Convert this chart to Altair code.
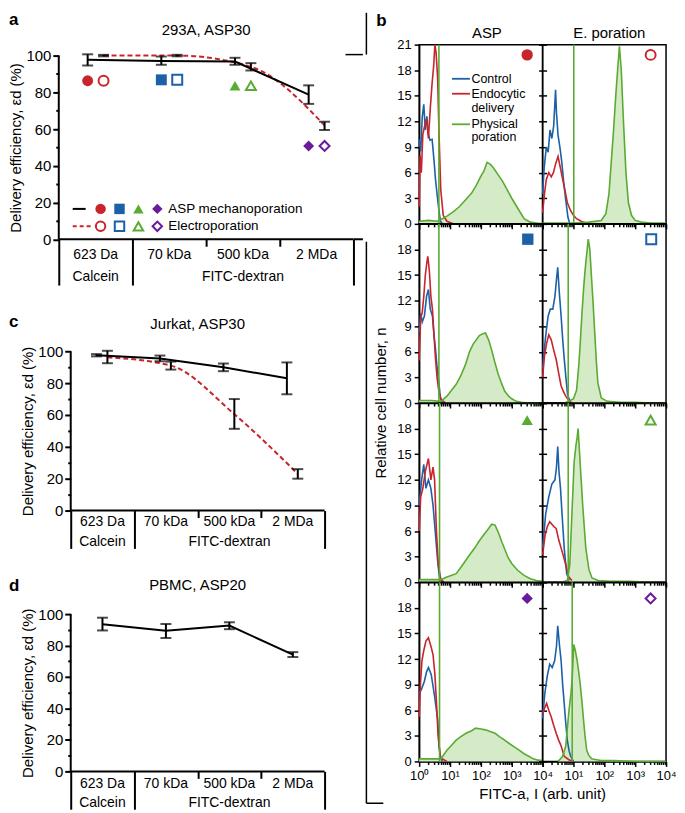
import altair as alt
import pandas as pd

FONT = "Liberation Sans"
RED = "#c8242b"
BLUE = "#1c61a8"
GREEN = "#5aab31"
PURPLE = "#6a1b9a"
FILL = "#d5ebc8"

# ---------------- categories ----------------
categories = ["623 Da", "70 kDa", "500 kDa", "2 MDa"]
group_names = ["Calcein", "FITC-dextran"]
group_first = [0, 1]
group_last = [1, 4]
cat_colors = [RED, BLUE, GREEN, PURPLE]
cat_shapes = ["circle", "square", "triangle-up", "diamond"]

# ---------------- panel a: 293A, ASP30 ----------------
a_asp = [97.7, 97.1, 96.8, 78.7]
a_asp_lo = [94.6, 95.0, 95.0, 73.7]
a_asp_hi = [100.7, 99.5, 98.8, 83.8]
a_ep = [100.0, 100.0, 93.9, 62.0]
a_ep_lo = [99.6, 99.6, 91.9, 59.5]
a_ep_hi = [100.4, 100.4, 95.9, 64.0]
a_marker = [86.3, 86.8, 83.6, 50.8]

# ---------------- panel c: Jurkat, ASP30 ----------------
c_asp = [97.5, 95.5, 90.0, 83.0]
c_asp_lo = [96.8, 93.7, 87.5, 73.0]
c_asp_hi = [98.2, 97.3, 92.3, 93.0]
c_ep = [96.2, 91.0, 60.5, 23.0]
c_ep_lo = [92.5, 88.5, 51.3, 20.0]
c_ep_hi = [100.3, 93.5, 70.0, 26.0]

# ---------------- panel d: PBMC, ASP20 ----------------
d_asp = [93.5, 89.4, 92.7, 74.2]
d_asp_lo = [89.6, 84.8, 90.4, 72.7]
d_asp_hi = [97.7, 93.7, 94.8, 75.8]

# ---------------- panel b: histograms (x = log10 FITC-a, n = relative cell number) ----------------
asp1_control_x = [0.0, 0.05, 0.1, 0.15, 0.2, 0.25, 0.3, 0.35, 0.42, 0.48, 0.53, 0.58, 0.64, 0.69, 0.75]
asp1_control_n = [9.9, 8.5, 12.5, 14.0, 11.0, 12.6, 10.5, 9.8, 9.9, 7.5, 5.2, 3.5, 1.6, 0.3, 0.0]
asp1_endo_x = [0.0, 0.03, 0.07, 0.12, 0.18, 0.24, 0.3, 0.36, 0.42, 0.47, 0.51, 0.55, 0.6, 0.64, 0.7, 0.78, 0.9, 1.1]
asp1_endo_n = [2.0, 8.0, 6.0, 10.5, 11.5, 12.3, 10.0, 13.5, 16.5, 18.5, 21.0, 20.0, 17.0, 11.0, 4.0, 1.0, 0.3, 0.0]
asp1_phys_x = [0.0, 0.3, 0.6, 0.75, 0.9, 1.1, 1.3, 1.5, 1.7, 1.85, 2.0, 2.1, 2.2, 2.3, 2.4, 2.55, 2.7, 2.85, 3.0, 3.2, 3.4, 3.6, 3.8, 4.0]
asp1_phys_n = [0.3, 0.4, 0.3, 0.6, 0.9, 1.4, 2.0, 2.8, 3.6, 4.5, 5.6, 6.2, 7.2, 7.0, 6.6, 5.8, 5.0, 4.0, 3.0, 1.8, 0.6, 0.2, 0.1, 0.0]

ep1_control_x = [0.0, 0.05, 0.12, 0.18, 0.24, 0.3, 0.36, 0.42, 0.45, 0.5, 0.56, 0.62, 0.68, 0.75, 0.82, 0.88]
ep1_control_n = [3.5, 6.5, 9.0, 8.4, 11.0, 10.0, 11.5, 15.7, 13.0, 10.4, 9.0, 7.3, 5.0, 2.8, 0.8, 0.0]
ep1_endo_x = [0.0, 0.06, 0.12, 0.2, 0.28, 0.35, 0.42, 0.5, 0.58, 0.65, 0.72, 0.8, 0.9, 1.0, 1.1, 1.25, 1.45]
ep1_endo_n = [1.3, 3.5, 5.2, 6.0, 5.5, 6.0, 7.0, 7.9, 6.5, 5.2, 4.0, 2.5, 1.6, 1.0, 0.6, 0.3, 0.0]
ep1_phys_x = [0.0, 0.5, 1.0, 1.5, 1.9, 2.05, 2.15, 2.22, 2.3, 2.37, 2.43, 2.49, 2.55, 2.62, 2.7, 2.78, 2.88, 3.0, 3.2, 3.5, 4.0]
ep1_phys_n = [0.1, 0.1, 0.1, 0.2, 0.4, 1.2, 3.5, 7.0, 11.0, 15.0, 18.0, 20.8, 18.0, 12.0, 6.0, 2.5, 1.0, 0.4, 0.2, 0.1, 0.1]

asp2_control_x = [0.0, 0.05, 0.1, 0.17, 0.24, 0.3, 0.36, 0.43, 0.48, 0.53, 0.58, 0.64, 0.69, 0.75]
asp2_control_n = [8.3, 10.5, 9.5, 10.2, 12.5, 13.3, 11.0, 10.2, 8.0, 6.3, 4.2, 2.4, 0.5, 0.0]
asp2_endo_x = [0.0, 0.05, 0.1, 0.15, 0.2, 0.25, 0.28, 0.33, 0.38, 0.43, 0.48, 0.53, 0.58, 0.64, 0.72, 0.85]
asp2_endo_n = [5.0, 10.0, 10.6, 12.5, 15.0, 16.5, 17.2, 15.5, 12.5, 11.0, 8.0, 5.2, 3.0, 1.3, 0.4, 0.0]
asp2_phys_x = [0.0, 0.4, 0.7, 0.9, 1.05, 1.2, 1.35, 1.5, 1.63, 1.75, 1.85, 1.95, 2.05, 2.15, 2.25, 2.35, 2.45, 2.56, 2.67, 2.77, 2.9, 3.0, 3.15, 3.3, 3.6, 4.0]
asp2_phys_n = [0.3, 0.3, 0.2, 0.8, 1.5, 2.2, 3.2, 4.5, 6.0, 6.9, 7.4, 7.9, 8.1, 8.2, 7.4, 6.2, 4.8, 3.4, 2.3, 1.4, 0.8, 0.5, 0.2, 0.1, 0.0, 0.0]

ep2_control_x = [0.0, 0.06, 0.12, 0.18, 0.25, 0.33, 0.4, 0.45, 0.49, 0.54, 0.6, 0.65, 0.7, 0.76, 0.81, 0.9]
ep2_control_n = [4.0, 6.5, 8.5, 10.2, 11.0, 11.0, 12.5, 14.5, 15.9, 13.0, 10.2, 7.5, 5.2, 2.8, 1.0, 0.1]
ep2_endo_x = [0.0, 0.06, 0.13, 0.2, 0.28, 0.36, 0.44, 0.52, 0.6, 0.68, 0.75, 0.85, 0.95]
ep2_endo_n = [3.0, 5.5, 7.0, 8.0, 7.4, 6.2, 5.1, 3.5, 2.0, 1.3, 0.8, 0.3, 0.0]
ep2_phys_x = [0.7, 0.85, 1.0, 1.1, 1.17, 1.22, 1.27, 1.33, 1.38, 1.43, 1.48, 1.53, 1.58, 1.64, 1.69, 1.74, 1.79, 1.9, 2.1, 2.5, 3.0, 3.5, 4.0]
ep2_phys_n = [0.0, 0.2, 0.5, 1.5, 4.3, 7.0, 10.2, 13.5, 15.7, 17.5, 19.2, 18.0, 15.0, 11.5, 8.2, 5.0, 2.4, 0.6, 0.2, 0.1, 0.1, 0.0, 0.0]

asp3_control_x = [0.0, 0.04, 0.08, 0.15, 0.22, 0.3, 0.38, 0.45, 0.52, 0.6, 0.66, 0.75]
asp3_control_n = [9.0, 10.5, 12.0, 13.8, 11.0, 12.0, 11.0, 9.0, 6.0, 2.5, 0.5, 0.0]
asp3_endo_x = [0.0, 0.05, 0.12, 0.2, 0.3, 0.38, 0.45, 0.5, 0.56, 0.62, 0.7, 0.8]
asp3_endo_n = [6.0, 10.0, 11.0, 13.0, 14.5, 12.0, 13.5, 12.0, 6.0, 2.0, 0.4, 0.0]
asp3_phys_x = [0.0, 0.4, 0.7, 0.9, 1.2, 1.4, 1.63, 1.8, 1.94, 2.1, 2.25, 2.35, 2.46, 2.57, 2.67, 2.78, 2.88, 3.0, 3.19, 3.4, 3.6, 3.8, 4.0]
asp3_phys_n = [0.3, 0.3, 0.3, 0.6, 1.0, 2.0, 3.2, 4.0, 4.8, 5.6, 6.3, 6.8, 6.7, 5.8, 4.8, 3.8, 2.9, 2.2, 1.4, 0.8, 0.4, 0.2, 0.1]

ep3_control_x = [0.0, 0.05, 0.1, 0.2, 0.3, 0.4, 0.45, 0.49, 0.53, 0.58, 0.63, 0.7, 0.78, 0.86]
ep3_control_n = [4.0, 6.0, 8.0, 10.0, 11.5, 12.0, 13.5, 15.9, 13.0, 11.0, 8.0, 4.0, 1.0, 0.2]
ep3_endo_x = [0.0, 0.08, 0.15, 0.23, 0.3, 0.37, 0.44, 0.52, 0.6, 0.68, 0.76, 0.85, 0.95]
ep3_endo_n = [3.2, 5.5, 6.5, 7.1, 6.8, 6.5, 6.3, 5.0, 4.0, 3.0, 1.9, 0.6, 0.2]
ep3_phys_x = [0.6, 0.8, 0.88, 0.95, 1.02, 1.08, 1.12, 1.15, 1.2, 1.25, 1.3, 1.4, 1.5, 1.6, 1.8, 2.2, 2.8, 3.5, 4.0]
ep3_phys_n = [0.0, 0.2, 2.0, 8.0, 14.0, 16.0, 17.0, 18.0, 15.0, 12.0, 9.0, 4.0, 1.5, 0.5, 0.2, 0.1, 0.1, 0.0, 0.0]

asp4_control_x = [0.0, 0.08, 0.17, 0.24, 0.3, 0.39, 0.49, 0.56, 0.6, 0.64, 0.69, 0.75]
asp4_control_n = [7.9, 8.5, 9.4, 10.5, 11.0, 10.2, 7.9, 6.0, 4.9, 1.8, 0.6, 0.0]
asp4_endo_x = [0.0, 0.04, 0.09, 0.15, 0.22, 0.3, 0.39, 0.45, 0.51, 0.56, 0.61, 0.69, 0.8, 0.9]
asp4_endo_n = [5.2, 9.0, 11.8, 13.0, 14.1, 14.5, 13.4, 12.5, 10.2, 7.0, 3.3, 0.4, 0.2, 0.0]
asp4_phys_x = [0.0, 0.4, 0.7, 0.9, 1.05, 1.2, 1.35, 1.52, 1.7, 1.83, 2.0, 2.15, 2.3, 2.46, 2.6, 2.77, 2.92, 3.08, 3.25, 3.4, 3.55, 3.7, 3.85, 4.0]
asp4_phys_n = [0.3, 0.3, 0.3, 1.3, 1.9, 2.5, 2.9, 3.3, 3.6, 3.9, 3.8, 3.7, 3.5, 3.3, 2.9, 2.5, 2.1, 1.7, 1.3, 0.9, 0.6, 0.3, 0.15, 0.1]

ep4_control_x = [0.0, 0.07, 0.15, 0.23, 0.31, 0.39, 0.45, 0.49, 0.55, 0.6, 0.65, 0.7, 0.75, 0.8, 0.86, 0.91, 1.0]
ep4_control_n = [5.0, 7.9, 10.0, 11.4, 11.0, 11.8, 13.5, 15.9, 13.5, 11.8, 9.0, 6.8, 4.5, 2.5, 1.2, 0.6, 0.0]
ep4_endo_x = [0.0, 0.06, 0.13, 0.2, 0.28, 0.36, 0.44, 0.52, 0.6, 0.7, 0.85, 1.0]
ep4_endo_n = [5.6, 6.2, 6.8, 6.0, 5.2, 4.2, 3.3, 2.5, 1.8, 0.6, 0.2, 0.0]
ep4_phys_x = [0.5, 0.65, 0.75, 0.85, 0.92, 0.96, 1.01, 1.06, 1.12, 1.17, 1.22, 1.28, 1.33, 1.38, 1.43, 1.5, 1.59, 1.75, 1.9, 2.3, 3.0, 4.0]
ep4_phys_n = [0.0, 0.6, 1.8, 5.8, 8.0, 9.8, 13.7, 13.0, 11.8, 10.5, 9.0, 6.8, 4.7, 2.8, 1.3, 0.7, 0.3, 0.2, 0.1, 0.1, 0.0, 0.0]

asp_gate = [0.64, 0.64, 0.66, 0.66]
ep_gate = [1.01, 0.83, 0.83, 0.96]
sym_exp = [3.5, 3.52, 3.5, 3.5]
sym_n = [19.8, 19.2, 19.0, 19.1]

hist = {
    (0, 0): (asp1_control_x, asp1_control_n, asp1_endo_x, asp1_endo_n, asp1_phys_x, asp1_phys_n),
    (0, 1): (ep1_control_x, ep1_control_n, ep1_endo_x, ep1_endo_n, ep1_phys_x, ep1_phys_n),
    (1, 0): (asp2_control_x, asp2_control_n, asp2_endo_x, asp2_endo_n, asp2_phys_x, asp2_phys_n),
    (1, 1): (ep2_control_x, ep2_control_n, ep2_endo_x, ep2_endo_n, ep2_phys_x, ep2_phys_n),
    (2, 0): (asp3_control_x, asp3_control_n, asp3_endo_x, asp3_endo_n, asp3_phys_x, asp3_phys_n),
    (2, 1): (ep3_control_x, ep3_control_n, ep3_endo_x, ep3_endo_n, ep3_phys_x, ep3_phys_n),
    (3, 0): (asp4_control_x, asp4_control_n, asp4_endo_x, asp4_endo_n, asp4_phys_x, asp4_phys_n),
    (3, 1): (ep4_control_x, ep4_control_n, ep4_endo_x, ep4_endo_n, ep4_phys_x, ep4_phys_n),
}
legend_b = ["Control", "Endocytic", "delivery", "Physical", "poration"]
column_titles = ["ASP", "E. poration"]

LETTER_X = -50


def one():
    return pd.DataFrame({"k": [0]})


def text_at(txt, x, y, size=14, weight="normal", align="left", baseline="alphabetic", angle=0):
    kw = dict(text=txt, fontSize=size, fontWeight=weight, align=align, baseline=baseline, color="black")
    if angle:
        kw["angle"] = angle
    return alt.Chart(one()).mark_text(**kw).encode(x=alt.value(x), y=alt.value(y))


def hrule(x1, x2, y, w=1.5, color="black", dash=None):
    kw = dict(color=color, strokeWidth=w)
    if dash:
        kw["strokeDash"] = dash
    return alt.Chart(one()).mark_rule(**kw).encode(x=alt.value(x1), x2=alt.value(x2), y=alt.value(y))


def vrule(x, y1, y2, w=1.5):
    return alt.Chart(one()).mark_rule(color="black", strokeWidth=w).encode(
        x=alt.value(x), y=alt.value(y1), y2=alt.value(y2))


# =============== efficiency panels ===============
def eff_panel(letter, title, W, H, asp, ep=None, off_asp=0.0, off_ep=0.0, extra=0, top=0,
              letter_y=-31, title_y=-26, sep_len=42, cat_dy=18, grp_dy=39,
              markers=None, legend=False, bracket=False):
    n = len(categories)
    lo_dom = -extra * n / W
    HT = H + top
    ymax = 100 + top * 100.0 / H
    xs = alt.Scale(domain=[lo_dom, n], nice=False, zero=False)
    ys = alt.Scale(domain=[0, ymax], nice=False)
    xax = alt.Axis(values=list(range(n + 1)), labels=False, title=None, grid=False, domain=False,
                   tickSize={"condition": {"test": f"datum.value <= 1 || datum.value >= {n}",
                                           "value": sep_len}, "value": 7})
    yax = alt.Axis(values=list(range(0, 101, 10)), grid=False, offset=-extra, domain=False,
                   title="Delivery efficiency, εd (%)", titleY=top + H / 2,
                   labelExpr="datum.value % 20 == 0 ? datum.label : ''",
                   tickSize={"condition": {"test": "datum.value % 20 == 0", "value": 6}, "value": 3},
                   titlePadding=2)

    def X(f):
        return alt.X(f, scale=xs, axis=xax)

    def Y(f):
        return alt.Y(f, scale=ys, axis=yax)

    def series(vals, off, color, dashed):
        v, lo, hi = vals
        df = pd.DataFrame({"cat": categories, "pos": [i + 0.5 + off for i in range(n)],
                           "v": v, "lo": lo, "hi": hi})
        kw = dict(color=color, strokeWidth=2)
        if dashed:
            kw.update(strokeDash=[5, 3], interpolate="monotone")
        line = alt.Chart(df).mark_line(**kw).encode(x=X("pos:Q"), y=Y("v:Q"))
        bars = [
            alt.Chart(df).mark_rule(color="black", strokeWidth=2).encode(x=X("pos:Q"), y=Y("lo:Q"), y2="hi:Q"),
            alt.Chart(df).mark_tick(color="black", thickness=2, size=11, orient="horizontal").encode(
                x=X("pos:Q"), y=Y("lo:Q")),
            alt.Chart(df).mark_tick(color="black", thickness=2, size=11, orient="horizontal").encode(
                x=X("pos:Q"), y=Y("hi:Q")),
        ]
        return line, bars

    # axis lines: x baseline over the categories, y line from 0 to 100
    base = pd.DataFrame({"x0": [0], "x1": [n], "y0": [0], "y1": [100]})
    layers = [
        alt.Chart(base).mark_rule(color="black", strokeWidth=2).encode(x=X("x0:Q"), x2="x1:Q", y=Y("y0:Q")),
        alt.Chart(base).mark_rule(color="black", strokeWidth=2).encode(x=X("x0:Q"), y=Y("y0:Q"), y2="y1:Q"),
    ]
    bars_all = []
    if ep is not None:
        l, b = series(ep, off_ep, RED, True)
        layers.append(l)
        bars_all += b
    l, b = series(asp, off_asp, "black", False)
    layers.append(l)
    bars_all += b
    layers += bars_all

    if markers is not None:
        mdf = pd.DataFrame({"cat": categories,
                            "pa": [i + 0.5 + off_asp for i in range(n)],
                            "pe": [i + 0.5 + off_ep for i in range(n)],
                            "y": markers})
        col = alt.Color("cat:N", scale=alt.Scale(domain=categories, range=cat_colors), legend=None)
        shp = alt.Shape("cat:N", scale=alt.Scale(domain=categories, range=cat_shapes), legend=None)
        layers.append(alt.Chart(mdf).mark_point(filled=True, size=120, opacity=1).encode(
            x=X("pa:Q"), y=Y("y:Q"), color=col, shape=shp))
        layers.append(alt.Chart(mdf).mark_point(filled=False, size=100, strokeWidth=2, opacity=1).encode(
            x=X("pe:Q"), y=Y("y:Q"), color=col, shape=shp))

    cdf = pd.DataFrame({"cat": categories, "cp": [i + 0.5 for i in range(n)]})
    layers.append(alt.Chart(cdf).mark_text(fontSize=14, baseline="alphabetic", color="black").encode(
        x=X("cp:Q"), y=alt.value(HT + cat_dy), text="cat:N"))
    gdf = pd.DataFrame({"g": group_names,
                        "gp": [(a + b) / 2 for a, b in zip(group_first, group_last)]})
    layers.append(alt.Chart(gdf).mark_text(fontSize=14, baseline="alphabetic", color="black").encode(
        x=X("gp:Q"), y=alt.value(HT + grp_dy), text="g:N"))

    layers.append(text_at(letter, LETTER_X, top + letter_y, size=17, weight="bold"))
    layers.append(text_at(title, extra + W / 2, top + title_y, size=15, align="center", baseline="middle"))

    if legend:
        rows = [("ASP mechanoporation", True), ("Electroporation", False)]
        for r, (lab, filled) in enumerate(rows):
            y = top + 154 + 17.5 * r
            if filled:
                layers.append(hrule(14, 27, y, w=2))
            else:
                layers.append(hrule(14, 32, y, w=2, color=RED, dash=[4, 3]))
            for i in range(n):
                kw = dict(shape=cat_shapes[i], color=cat_colors[i], filled=filled, opacity=1,
                          size=110 if filled else 90)
                if not filled:
                    kw["strokeWidth"] = 2
                layers.append(alt.Chart(one()).mark_point(**kw).encode(
                    x=alt.value(42 + 19 * i), y=alt.value(y)))
            layers.append(text_at(lab, 110, y, size=13.5, baseline="middle"))

    if bracket:
        layers.append(hrule(W - 8, W + 9.5, top - 1))
        layers.append(hrule(W, W + 9.5, HT, w=2))

    return alt.layer(*layers).properties(width=extra + W, height=HT)


panel_a = eff_panel("a", "293A, ASP30", 296, 184.5,
                    (a_asp, a_asp_lo, a_asp_hi), (a_ep, a_ep_lo, a_ep_hi),
                    off_asp=-0.108, off_ep=0.108, top=11, letter_y=-31, title_y=-26,
                    sep_len=46, cat_dy=19.5, grp_dy=41.5,
                    markers=a_marker, legend=True, bracket=True)
panel_c = eff_panel("c", "Jurkat, ASP30", 255, 160,
                    (c_asp, c_asp_lo, c_asp_hi), (c_ep, c_ep_lo, c_ep_hi),
                    off_asp=-0.094, off_ep=0.078, extra=12, letter_y=-24, title_y=-27,
                    sep_len=38, cat_dy=16, grp_dy=36)
panel_d = eff_panel("d", "PBMC, ASP20", 255, 158,
                    (d_asp, d_asp_lo, d_asp_hi), None,
                    off_asp=0.0, extra=12, letter_y=-23, title_y=-29,
                    sep_len=38, cat_dy=17, grp_dy=36)

left = alt.vconcat(panel_a, panel_c, panel_d, spacing=26)

# =============== histogram panels ===============
WB = 124
HB = 180
XT = [m * 10 ** e for e in range(4) for m in range(1, 10)] + [10000]
DEC = "indexof([1,10,100,1000,10000], datum.value) >= 0"
SUP = "'10' + ['⁰','¹','²','³','⁴'][round(log(datum.value)/LN10)]"


def hist_cell(r, c):
    cx, cn, ex, en, px, pn = hist[(r, c)]
    ctrl = pd.DataFrame({"I": [10 ** v for v in cx], "n": cn})
    endo = pd.DataFrame({"I": [10 ** v for v in ex], "n": en})
    phys = pd.DataFrame({"I": [10 ** v for v in px], "n": pn})
    gate = pd.DataFrame({"I": [10 ** (asp_gate[r] if c == 0 else ep_gate[r])]})
    sym = pd.DataFrame({"I": [10 ** sym_exp[r]], "n": [sym_n[r]]})

    xs = alt.Scale(type="log", domain=[1, 10000], nice=False)
    ys = alt.Scale(domain=[0, 21], nice=False, zero=True)
    cond = DEC + (" && datum.value > 1" if c == 1 else "")
    xax = alt.Axis(values=XT, title=None, grid=False, labels=(r == 3),
                   labelExpr=f"({cond}) ? {SUP} : ''", labelOverlap=False, labelFlush=False,
                   tickSize={"condition": {"test": DEC, "value": 5}, "value": 3},
                   domainWidth=1.5, tickWidth=1.5, labelFontSize=13, labelPadding=3)
    if c == 0:
        yax = alt.Axis(values=list(range(0, 22 if r == 0 else 19, 3)), title=None, grid=False,
                       tickSize=5, labelFontSize=13, domainWidth=1.5, tickWidth=1.5,
                       labelPadding=3, labelFlush=False)
    else:
        yax = alt.Axis(values=list(range(0, 22, 3)), title=None, grid=False, labels=False,
                       tickSize=8, offset=-4, domain=False, tickWidth=1.5)

    def X(f):
        return alt.X(f, scale=xs, axis=xax)

    def Y(f):
        return alt.Y(f, scale=ys, axis=yax)

    layers = [
        alt.Chart(phys).mark_area(color=FILL, opacity=1).encode(x=X("I:Q"), y=Y("n:Q")),
        alt.Chart(ctrl).mark_line(color=BLUE, strokeWidth=1.6).encode(x=X("I:Q"), y=Y("n:Q")),
        alt.Chart(endo).mark_line(color=RED, strokeWidth=1.6).encode(x=X("I:Q"), y=Y("n:Q")),
        alt.Chart(phys).mark_line(color=GREEN, strokeWidth=1.6).encode(x=X("I:Q"), y=Y("n:Q")),
        alt.Chart(gate).mark_rule(color=GREEN, strokeWidth=1.6).encode(x=X("I:Q")),
    ]
    filled = c == 0
    kw = dict(shape=cat_shapes[r], color=cat_colors[r], filled=filled, opacity=1,
              size=130 if filled else 100)
    if not filled:
        kw["strokeWidth"] = 2
    layers.append(alt.Chart(sym).mark_point(**kw).encode(x=X("I:Q"), y=Y("n:Q")))

    u = HB / 180.0
    if r == 0:
        layers.append(text_at(column_titles[c], 68 if c == 0 else 67, -12, size=15,
                              align="center", baseline="middle"))
    if r == 0 and c == 0:
        layers.append(text_at("b", -43, -19, size=17, weight="bold"))
        layers.append(vrule(-53, -32, 10))
        for col, yy in [(BLUE, 34.3), (RED, 49.3), (GREEN, 80.0)]:
            layers.append(hrule(33, 51, yy * u, w=1.8, color=col))
        for k, yy in enumerate([34.3, 49.3, 63.3, 80.0, 92.5]):
            layers.append(text_at(legend_b[k], 52.5, yy * u, size=12.5, baseline="middle"))
    if r == 1 and c == 0:
        layers.append(text_at("Relative cell number, n", -38, HB, size=15, align="center",
                              baseline="middle", angle=270))
    if r == 3 and c == 0:
        layers.append(text_at("FITC-a, I (arb. unit)", WB, HB + 33, size=15, align="center",
                              baseline="middle"))
        layers.append(vrule(-53, 18 - 2 * HB, HB + 42))
        layers.append(hrule(-53, -36, HB + 42))

    return alt.layer(*layers).properties(
        width=WB, height=HB, view=alt.ViewBackground(stroke="black", strokeWidth=1.5))


cells = [hist_cell(r, c) for r in range(4) for c in range(2)]
right = alt.concat(*cells, columns=2, spacing=0, bounds="flush")

chart = alt.hconcat(left, right, spacing=0).properties(
    padding=0, background="white"
).configure(font=FONT).configure_view(stroke="transparent").configure_axis(
    labelFont=FONT, labelFontSize=15, labelColor="black", titleFont=FONT, titleFontSize=15,
    titleFontWeight="normal", titleColor="black", domainColor="black", tickColor="black",
    domainWidth=2, tickWidth=2, labelPadding=2
)

chart.save("out.html", embed_options={"renderer": "svg", "actions": False})
